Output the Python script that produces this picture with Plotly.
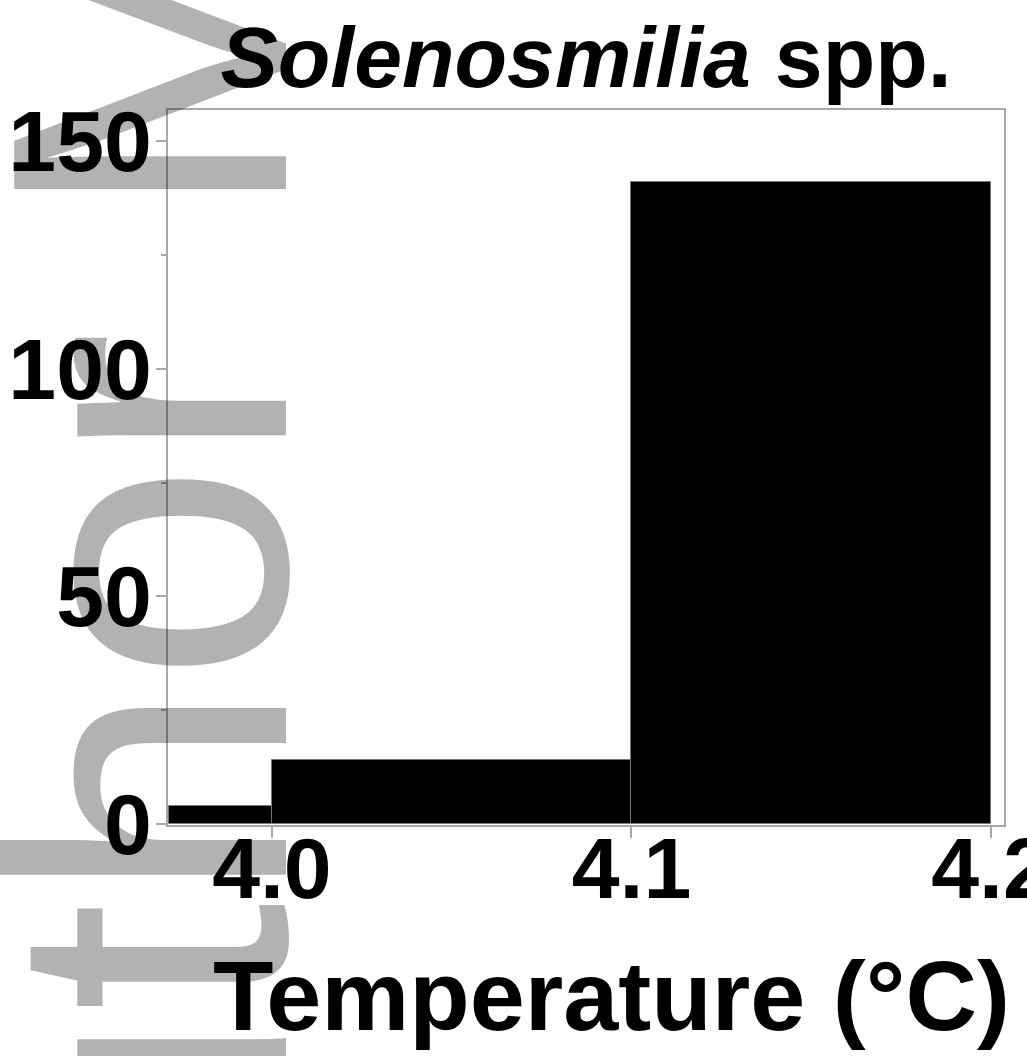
import plotly.graph_objects as go

# Histogram of temperatures at Solenosmilia spp. records
bin_left = [3.9715, 4.0, 4.1]
bin_right = [4.0, 4.1, 4.2]
counts = [4, 14, 141]

x_tickvals = [4.0, 4.1, 4.2]
x_ticktext = ["4.0", "4.1", "4.2"]
y_tickvals = [0, 50, 100, 150]
y_minor_tickvals = [25, 75, 125]

centers = [(a + b) / 2 for a, b in zip(bin_left, bin_right)]
widths = [b - a for a, b in zip(bin_left, bin_right)]

FONT = "Liberation Sans, Arial, Helvetica, sans-serif"
FRAME = "#a8a8a8"

# plot area in pixels
L, R, T, B = 168, 1004, 110, 825
W, H = 1027, 1056

fig = go.Figure()
fig.add_trace(go.Bar(
    x=centers,
    y=counts,
    width=widths,
    marker=dict(color="black", line=dict(color="#777777", width=1)),
    hoverinfo="x+y",
))

fig.update_layout(
    width=W,
    height=H,
    margin=dict(l=L, r=W - R, t=T, b=H - B),
    paper_bgcolor="white",
    plot_bgcolor="white",
    showlegend=False,
    bargap=0,
    title=dict(
        text="<i>Solenosmilia</i> spp.",
        font=dict(family=FONT, size=86, color="black", weight="bold"),
        x=0.5,
        xref="paper",
        xanchor="center",
        y=1 - 57 / H,
        yref="container",
        yanchor="middle",
    ),
    xaxis=dict(
        range=[3.9711, 4.2036],
        tickvals=x_tickvals,
        ticktext=x_ticktext,
        ticks="outside",
        ticklen=11,
        tickwidth=1.5,
        tickcolor=FRAME,
        showline=True,
        linecolor=FRAME,
        linewidth=2,
        mirror=True,
        showgrid=False,
        zeroline=False,
        automargin=False,
        ticklabeloverflow="allow",
        ticklabelstandoff=-43,
        tickfont=dict(family=FONT, size=86, color="black", weight="bold"),
    ),
    yaxis=dict(
        range=[-0.2, 156.8],
        tickvals=y_tickvals,
        ticks="outside",
        ticklen=10,
        tickwidth=1.5,
        tickcolor=FRAME,
        showline=True,
        linecolor=FRAME,
        linewidth=2,
        mirror=True,
        showgrid=False,
        zeroline=False,
        automargin=False,
        ticklabeloverflow="allow",
        ticklabelstandoff=-13,
        tickfont=dict(family=FONT, size=86, color="black", weight="bold"),
        minor=dict(tickvals=y_minor_tickvals, ticks="outside", ticklen=5,
                   tickcolor=FRAME, tickwidth=1.5, showgrid=False),
    ),
)

# x-axis title
fig.add_annotation(
    text="<b>Temperature (°C)</b>",
    xref="paper",
    yref="paper",
    x=(611 - L) / (R - L),
    y=(B - 996) / (B - T),
    xanchor="center",
    yanchor="middle",
    showarrow=False,
    font=dict(family=FONT, size=99, color="black"),
)

# Repository watermark running up the left edge
fig.add_annotation(
    text="Author Manuscript",
    textangle=-90,
    xref="paper",
    yref="paper",
    x=(150 - L) / (R - L),
    y=(B + 108) / (B - T),
    xanchor="center",
    yanchor="middle",
    showarrow=False,
    font=dict(family=FONT, size=395, color="rgba(0,0,0,0.3)"),
)

fig.write_html("out.html")
